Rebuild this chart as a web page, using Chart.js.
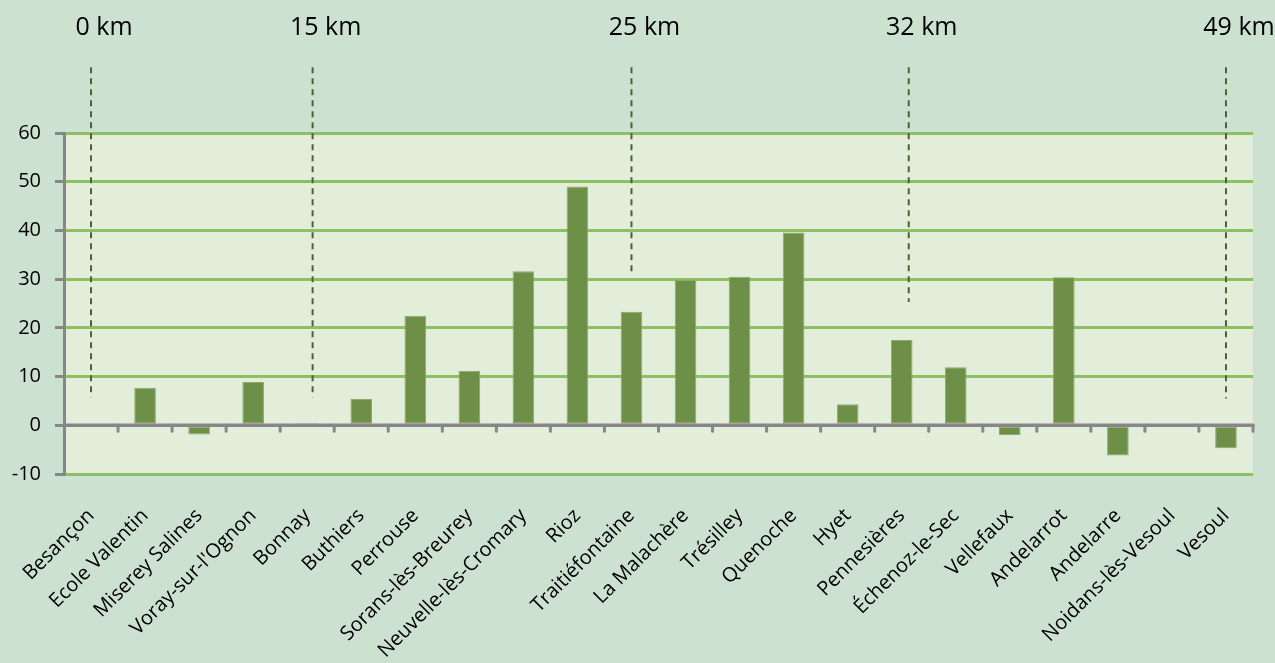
<!DOCTYPE html>
<html>
<head>
<meta charset="utf-8">
<script src="https://cdn.jsdelivr.net/npm/chart.js@4/dist/chart.umd.min.js"></script>
<style>
  html, body { margin: 0; padding: 0; background: #cde1d1; }
  #wrap { width: 1275px; height: 663px; position: relative; }
</style>
</head>
<body>
<div id="wrap"><canvas id="myChart"></canvas></div>
<script>
Chart.defaults.font.family = "'Open Sans', sans-serif";
Chart.defaults.color = '#000000';

// communes along the route
const cities = ['Besançon', 'Ecole Valentin', 'Miserey Salines', "Voray-sur-l'Ognon", 'Bonnay', 'Buthiers',
    'Perrouse', 'Sorans-lès-Breurey', 'Neuvelle-lès-Cromary', 'Rioz', 'Traitiéfontaine', 'La Malachère',
    'Trésilley', 'Quenoche', 'Hyet', 'Pennesières', 'Échenoz-le-Sec', 'Vellefaux', 'Andelarrot',
    'Andelarre', 'Noidans-lès-Vesoul', 'Vesoul'];
const values = [0, 7.7, -1.9, 8.9, 0.4, 5.4, 22.5, 11.2, 31.6, 49.0, 23.3, 29.8,
    30.5, 39.6, 4.3, 17.5, 11.9, -2.0, 30.4, -6.2, -0.3, -4.7];

// y axis
const yMin = -10;
const yMax = 60;
const yStep = 10;

// distance markers (dashed lines)
const markerPos = [0, 4.1, 10, 15.13, 21];
const markerKm = ['0 km', '15 km', '25 km', '32 km', '49 km'];
const markerEnds = [5.7, 5.7, 31, 25.3, 5.5];
const markerTop = 73.5;

const plotBg = {
    id: 'plotBg',
    beforeDraw(chart) {
        const {ctx, chartArea: a} = chart;
        ctx.save();
        ctx.fillStyle = '#e2eed9';
        ctx.fillRect(a.left, a.top, a.right - a.left, a.bottom - a.top);
        ctx.restore();
    }
};

// axe du zéro + petites graduations
const zeroAxis = {
    id: 'zeroAxis',
    afterDatasetsDraw(chart) {
        const {ctx, chartArea: a, scales} = chart;
        const y0 = scales.y.getPixelForValue(0);
        ctx.save();
        ctx.strokeStyle = '#87868b';
        ctx.lineWidth = 3.5;
        ctx.lineCap = 'round';
        ctx.beginPath();
        ctx.moveTo(a.left, y0);
        ctx.lineTo(a.right, y0);
        ctx.stroke();
        ctx.lineWidth = 3;
        for (let i = 1; i <= cities.length; i++) {
            const x = i < cities.length
                ? (scales.x.getPixelForTick(i - 1) + scales.x.getPixelForTick(i)) / 2
                : a.right;
            ctx.beginPath();
            ctx.moveTo(x, y0);
            ctx.lineTo(x, y0 + 6);
            ctx.stroke();
        }
        ctx.restore();
    }
};

const kmMarkers = {
    id: 'kmMarkers',
    afterDatasetsDraw(chart) {
        const {ctx, scales} = chart;
        ctx.save();
        ctx.strokeStyle = '#4a6432';
        ctx.lineWidth = 2;
        ctx.setLineDash([6, 5]);
        ctx.font = "25px 'Open Sans', sans-serif";
        ctx.fillStyle = '#000000';
        ctx.textAlign = 'center';
        ctx.textBaseline = 'middle';
        for (let i = 0; i < markerPos.length; i++) {
            const x = scales.x.getPixelForValue(markerPos[i]);
            ctx.beginPath();
            ctx.moveTo(x, scales.y.getPixelForValue(markerTop));
            ctx.lineTo(x, scales.y.getPixelForValue(markerEnds[i]));
            ctx.stroke();
            ctx.fillText(markerKm[i], x + 13, 28);
        }
        ctx.restore();
    }
};

var ctx = document.getElementById('myChart').getContext('2d');

var myChart = new Chart(ctx, {
    type: 'bar',
    data: {
        labels: cities,
        datasets: [{
            data: values,
            backgroundColor: '#6d8f47',
            borderColor: '#8cab6b',
            borderWidth: 1,
            borderSkipped: false,
            barPercentage: 0.4,
            categoryPercentage: 1
        }]
    },
    options: {
        responsive: true,
        maintainAspectRatio: false,
        animation: false,
        layout: {
            padding: {top: 133, right: 22, bottom: 0, left: 0}
        },
        plugins: {
            legend: {display: false},
            tooltip: {enabled: false}
        },
        scales: {
            x: {
                grid: {display: false, drawTicks: false},
                border: {display: false},
                ticks: {
                    autoSkip: false,
                    maxRotation: 45,
                    minRotation: 45,
                    padding: 30,
                    font: {size: 20}
                },
                afterFit: (scale) => {
                    scale.height = 189;
                    scale.paddingLeft = 0;   // les étiquettes tournées ne décalent pas la zone
                    scale.paddingRight = 0;
                }
            },
            y: {
                min: yMin,
                max: yMax,
                ticks: {
                    stepSize: yStep,
                    padding: 14,
                    font: {size: 20}
                },
                grid: {
                    color: (c) => (c.tick.value === 0 ? '#87868b' : '#8dbf63'),
                    lineWidth: 3,
                    tickColor: '#87868b',
                    tickLength: 9,
                    tickWidth: 3
                },
                border: {color: '#87868b', width: 3},
                afterFit: (scale) => { scale.width = 64; }
            }
        }
    },
    plugins: [plotBg, zeroAxis, kmMarkers]
});
</script>
</body>
</html>
